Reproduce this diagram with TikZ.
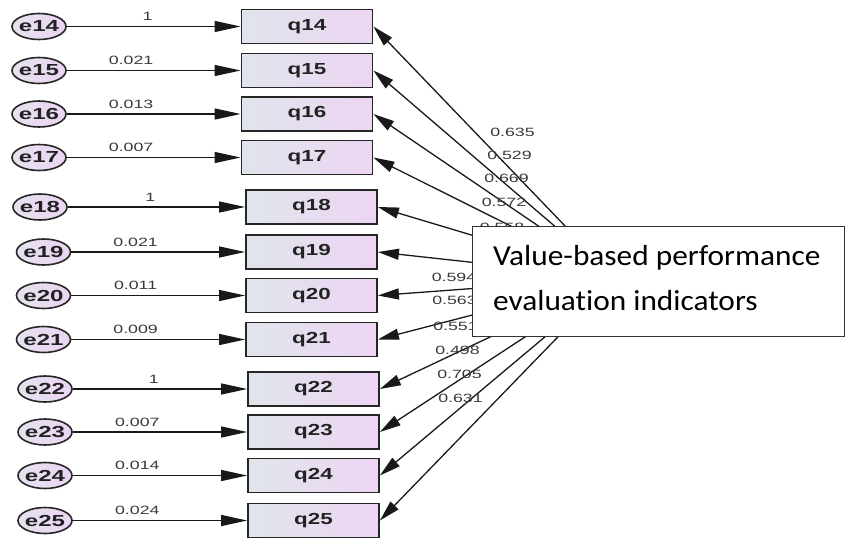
\documentclass[tikz,border=0pt]{standalone}
\usepackage{fontspec}
\setmainfont{Liberation Sans}
\newfontfamily\calib[Ligatures=NoCommon]{Carlito}
\usetikzlibrary{arrows.meta,shapes.geometric}
\definecolor{boxl}{HTML}{E0E5EC}
\definecolor{boxr}{HTML}{EDD5F3}
\definecolor{elll}{HTML}{E6E2EE}
\definecolor{ellr}{HTML}{EBD4F3}
\definecolor{txt}{HTML}{222222}
\definecolor{lblc}{HTML}{3A3A3A}
\newcommand\qsx[1]{\scalebox{1.4}[1]{#1}}
\newcommand\esx[1]{\makebox[0pt]{\scalebox{1.5}[1]{#1}}}
\newcommand\nsx[1]{\scalebox{1.48}[1]{#1}}
\newcommand\bsx[1]{\scalebox{1.08}[1]{#1}}
\begin{document}
\begin{tikzpicture}[x=1pt,y=-1pt,
  obs/.style={draw=black!85, line width=1.8pt, rectangle, minimum width=131pt, minimum height=34pt,
    left color=boxl, right color=boxr, inner sep=0pt, font=\fontsize{16}{16}\selectfont\bfseries, text=txt},
  err/.style={draw=black!85, line width=1.6pt, ellipse, minimum width=54pt, minimum height=26pt,
    left color=elll, right color=ellr, inner sep=0pt, font=\fontsize{16}{16}\selectfont\bfseries, text=txt},
  hor/.style={draw=black!90, line width=1.3pt, -{Triangle[length=26pt,width=11pt]}},
  load/.style={draw=black!90, line width=1.3pt, -{Triangle[length=21pt,width=11pt]}},
  wt/.style={font=\fontsize{12}{12}\selectfont, text=lblc, inner sep=0pt, above=5pt},
  lbl/.style={font=\fontsize{12}{12}\selectfont, text=lblc, inner sep=0pt},
  factor/.style={draw=black!80, line width=1pt, fill=white, rectangle, minimum width=372pt, minimum height=110pt, inner sep=0pt},
  big/.style={font=\fontsize{29}{29}\selectfont\calib, text=black, inner sep=0pt, anchor=base west}
]
\useasboundingbox (0,0) rectangle (845,541);

% error terms
\node[err] (e14) at (39,26.5) {\esx{e14}};
\node[err] (e15) at (39,70.5) {\esx{e15}};
\node[err] (e16) at (39,114) {\esx{e16}};
\node[err] (e17) at (39,157.5) {\esx{e17}};
\node[err] (e18) at (40,207) {\esx{e18}};
\node[err] (e19) at (43.5,252) {\esx{e19}};
\node[err] (e20) at (43.5,295.5) {\esx{e20}};
\node[err] (e21) at (43.5,339.5) {\esx{e21}};
\node[err] (e22) at (45,389) {\esx{e22}};
\node[err] (e23) at (45,432) {\esx{e23}};
\node[err] (e24) at (45,475.5) {\esx{e24}};
\node[err] (e25) at (45,520.5) {\esx{e25}};

% observed variables
\node[obs] (q14) at (307,26.5) {\qsx{q14}};
\node[obs] (q15) at (307,70.5) {\qsx{q15}};
\node[obs] (q16) at (307,114) {\qsx{q16}};
\node[obs] (q17) at (307,157.5) {\qsx{q17}};
\node[obs] (q18) at (311.5,207) {\qsx{q18}};
\node[obs] (q19) at (311.5,252) {\qsx{q19}};
\node[obs] (q20) at (311.5,295.5) {\qsx{q20}};
\node[obs] (q21) at (311.5,339.5) {\qsx{q21}};
\node[obs] (q22) at (313.5,389) {\qsx{q22}};
\node[obs] (q23) at (313.5,432) {\qsx{q23}};
\node[obs] (q24) at (313.5,475.5) {\qsx{q24}};
\node[obs] (q25) at (313.5,520.5) {\qsx{q25}};

% error arrows
\draw[hor] (e14) -- node[wt, pos=0.465] {\nsx{1}} (q14);
\draw[hor] (e15) -- node[wt, pos=0.37] {\nsx{0.021}} (q15);
\draw[hor] (e16) -- node[wt, pos=0.37] {\nsx{0.013}} (q16);
\draw[hor] (e17) -- node[wt, pos=0.37] {\nsx{0.007}} (q17);
\draw[hor] (e18) -- node[wt, pos=0.465] {\nsx{1}} (q18);
\draw[hor] (e19) -- node[wt, pos=0.37] {\nsx{0.021}} (q19);
\draw[hor] (e20) -- node[wt, pos=0.37] {\nsx{0.011}} (q20);
\draw[hor] (e21) -- node[wt, pos=0.37] {\nsx{0.009}} (q21);
\draw[hor] (e22) -- node[wt, pos=0.465] {\nsx{1}} (q22);
\draw[hor] (e23) -- node[wt, pos=0.37] {\nsx{0.007}} (q23);
\draw[hor] (e24) -- node[wt, pos=0.37] {\nsx{0.014}} (q24);
\draw[hor] (e25) -- node[wt, pos=0.37] {\nsx{0.024}} (q25);

% hidden latent source
\coordinate (c) at (615,278);
\foreach \q in {q14,q15,q16,q17,q18,q19,q20,q21,q22,q23,q24,q25}
  \draw[load] (c) -- (\q.east);

% loading labels
\node[lbl] (l14) at (512.5,132.5) {\nsx{0.635}};
\node[lbl] (l15) at (509.5,155) {\nsx{0.529}};
\node[lbl] (l16) at (506.5,178) {\nsx{0.669}};
\node[lbl] (l17) at (504,202) {\nsx{0.572}};
\node[lbl] (l18) at (502,227) {\nsx{0.558}};
\node[lbl] (l20) at (454,277) {\nsx{0.594}};
\node[lbl] (l21) at (454.5,300) {\nsx{0.563}};
\node[lbl] (l22) at (455.5,326.5) {\nsx{0.551}};
\node[lbl] (l23) at (457.5,350.5) {\nsx{0.498}};
\node[lbl] (l24) at (459.5,374.5) {\nsx{0.705}};
\node[lbl] (l25) at (460.5,398) {\nsx{0.631}};

% factor box
\node[factor] (F) at (658,281) {};
\node[big] (t1) at (493,265) {\bsx{Value-based performance}};
\node[big] (t2) at (493,310) {\bsx{evaluation indicators}};
\end{tikzpicture}
\end{document}
